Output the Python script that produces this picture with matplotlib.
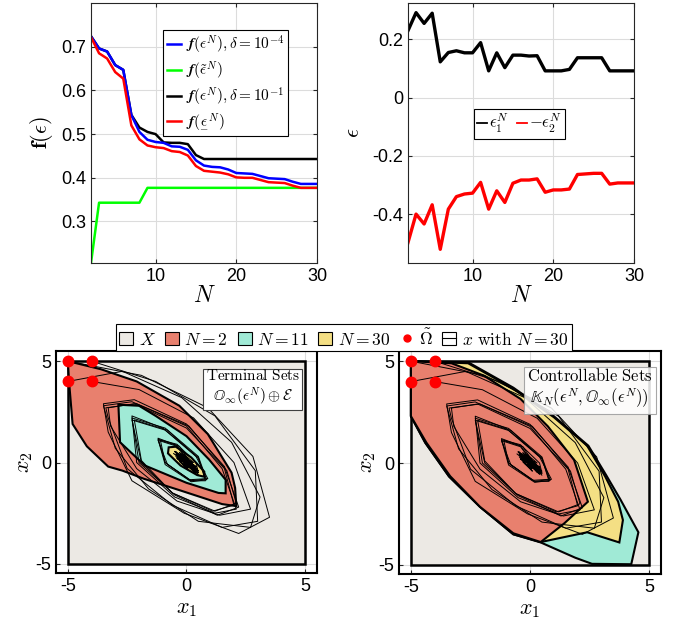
import numpy as np
import matplotlib
matplotlib.use("Agg")
import matplotlib.pyplot as plt
from matplotlib.patches import Polygon, Patch
from matplotlib.lines import Line2D
from matplotlib.legend_handler import HandlerTuple

plt.rcParams['font.family'] = ['Liberation Sans', 'DejaVu Sans']
plt.rcParams['mathtext.fontset'] = 'cm'
plt.rcParams['axes.unicode_minus'] = False

# ---- top panels data ----
N = list(range(2, 31))
f_delta4 = [0.724, 0.696, 0.689, 0.658, 0.647, 0.544, 0.505, 0.487, 0.482, 0.480,
            0.472, 0.471, 0.464, 0.440, 0.428, 0.425, 0.424, 0.419, 0.411, 0.410,
            0.409, 0.404, 0.399, 0.398, 0.397, 0.391, 0.386, 0.386, 0.386]
f_tilde = [0.205, 0.343, 0.343, 0.343, 0.343, 0.343, 0.343, 0.377, 0.377, 0.377,
           0.377, 0.377, 0.377, 0.377, 0.377, 0.377, 0.377, 0.377, 0.377, 0.377,
           0.377, 0.377, 0.377, 0.377, 0.377, 0.377, 0.377, 0.377, 0.377]
f_delta1 = [0.724, 0.696, 0.689, 0.658, 0.647, 0.544, 0.515, 0.505, 0.500, 0.481,
            0.480, 0.480, 0.477, 0.452, 0.443, 0.443, 0.443, 0.443, 0.443, 0.443,
            0.443, 0.443, 0.443, 0.443, 0.443, 0.443, 0.443, 0.443, 0.443]
f_under = [0.722, 0.685, 0.673, 0.642, 0.627, 0.520, 0.488, 0.474, 0.470, 0.468,
           0.461, 0.459, 0.451, 0.427, 0.416, 0.414, 0.412, 0.408, 0.401, 0.400,
           0.400, 0.395, 0.390, 0.389, 0.388, 0.382, 0.377, 0.377, 0.377]

eps1 = [0.230, 0.292, 0.255, 0.290, 0.123, 0.155, 0.161, 0.154, 0.154, 0.189,
        0.092, 0.154, 0.103, 0.146, 0.146, 0.143, 0.144, 0.092, 0.092, 0.092,
        0.097, 0.137, 0.137, 0.137, 0.137, 0.092, 0.092, 0.092, 0.092]
neg_eps2 = [-0.498, -0.400, -0.434, -0.368, -0.521, -0.383, -0.340, -0.331, -0.328, -0.291,
            -0.383, -0.320, -0.360, -0.294, -0.283, -0.283, -0.279, -0.325, -0.317, -0.317,
            -0.314, -0.264, -0.262, -0.260, -0.260, -0.297, -0.293, -0.293, -0.293]

# ---- bottom panels data (polygon vertices, state trajectories) ----
X_set = [(-5, -5), (5, -5), (5, 5), (-5, 5)]

term_N2 = [(-5.0, 5.0), (-3.6, 4.6), (-2.1, 4.0), (-0.3, 2.8), (0.9, 1.4), (1.9, -0.5),
           (2.05, -1.25), (2.1, -2.15), (1.5, -2.05), (-0.2, -1.4), (-1.8, -0.8),
           (-2.7, -0.4), (-3.3, -0.2), (-4.2, 0.8), (-4.8, 1.9), (-4.95, 4.0)]
term_N11 = [(-2.87, 2.85), (-2.0, 2.8), (-1.3, 2.3), (0.0, 1.3), (0.95, 0.15), (1.65, -0.85),
            (1.65, -1.52), (1.35, -1.5), (0.0, -1.0), (-1.75, -0.15), (-2.8, 1.0)]
term_N30 = [(-0.75, 0.75), (-0.45, 0.78), (0.2, 0.25), (0.75, -0.45), (0.75, -0.7),
            (0.45, -0.62), (-0.25, -0.15), (-0.78, 0.45)]

ctrl_N2 = [(-5.0, 5.0), (-3.3, 4.9), (-1.95, 4.3), (-0.4, 3.15), (0.75, 1.8), (1.85, 0.15),
           (2.43, -1.9), (1.45, -2.95), (0.45, -3.88), (-0.7, -3.45), (-2.1, -2.15),
           (-3.35, -0.65), (-4.35, 1.0), (-5.0, 2.3)]
ctrl_N30 = [(-5.0, 5.0), (-2.6, 4.9), (-0.7, 3.65), (1.0, 2.25), (2.4, 0.85), (3.15, -0.65),
            (3.7, -1.9), (3.9, -2.8), (3.75, -3.9), (2.4, -3.4), (0.45, -3.88),
            (-0.7, -3.5), (-2.1, -2.15), (-3.4, -0.66), (-4.4, 1.0), (-5.0, 2.3)]
ctrl_N11 = [(-5.0, 5.0), (-2.6, 4.95), (-0.7, 3.7), (1.0, 2.3), (2.45, 0.85), (3.2, -0.6),
            (3.8, -1.8), (4.55, -3.4), (4.25, -4.97), (2.6, -4.95), (1.9, -4.65),
            (0.45, -3.9), (-0.7, -3.5), (-2.1, -2.15), (-3.4, -0.66), (-4.4, 1.0), (-5.0, 2.3)]

x0_points = [(-5, 5), (-4, 5), (-5, 4), (-4, 4)]

traj_1 = [(-5.0, 5.0), (-1.9, 4.3), (0.9, 2.7), (2.8, 0.3), (3.5, -2.7), (2.2, -3.5),
          (-0.1, -2.5), (-2.3, -0.9), (-3.3, 1.5), (-3.5, 2.9), (-2.2, 3.1), (0.0, 1.9),
          (1.6, -0.2), (2.2, -2.2), (1.3, -2.6), (-0.5, -1.6), (-2.0, 0.0), (-2.3, 2.2),
          (-0.9, 1.7), (0.5, 0.3), (0.85, -0.85), (0.2, -0.95), (-0.9, -0.1), (-1.2, 1.15),
          (-0.4, 0.9), (0.4, 0.0),
          (0.5, -0.5), (-0.3, 0.5), (0.3, -0.45), (-0.5, 0.55), (0.4, -0.2), (-0.4, 0.2),
          (0.2, 0.05), (0.05, -0.3), (-0.05, 0.3), (0.5, -0.5), (-0.2, -0.05), (0.4, -0.2),
          (-0.5, 0.55), (0.3, -0.45), (-0.05, 0.3), (0.05, -0.3), (-0.4, 0.2), (0.2, 0.05),
          (-0.3, 0.5), (0.45, -0.35), (-0.45, 0.4), (0.35, -0.3), (-0.35, 0.35), (0.1, -0.2),
          (-0.1, 0.2), (0.25, -0.1), (-0.25, 0.1), (0.4, -0.45), (-0.4, 0.45), (0.15, -0.25),
          (-0.15, 0.25), (0.0, 0.0)]
traj_2 = [(-4.0, 5.0), (-1.3, 4.0), (1.2, 2.3), (2.9, -0.4), (3.0, -2.9), (1.5, -3.2),
          (-0.6, -2.1), (-2.5, -0.3), (-3.3, 2.2), (-3.4, 2.7), (-2.1, 2.9), (0.1, 1.8),
          (1.7, -0.4), (2.1, -2.0), (1.2, -2.4), (-0.6, -1.5), (-1.9, 0.1), (-2.2, 2.1),
          (-0.8, 1.6), (0.5, 0.2), (0.8, -0.8), (0.1, -0.85), (-0.9, 0.0), (-1.1, 1.1),
          (-0.3, 0.8), (0.5, -0.6),
          (-0.45, 0.5), (0.35, -0.5), (-0.2, 0.45), (0.45, -0.3), (-0.45, 0.3), (0.1, -0.4),
          (-0.3, 0.05), (0.3, 0.0), (-0.1, 0.4), (0.15, -0.15), (-0.35, 0.45), (0.45, -0.45),
          (-0.25, 0.35), (0.25, -0.35), (-0.1, 0.1), (0.0, 0.0)]
traj_3 = [(-5.0, 4.0), (-2.7, 4.5), (-0.2, 3.2), (1.9, 1.0), (3.1, -1.7), (2.7, -3.2),
          (0.5, -2.9), (-1.6, -1.3), (-3.0, 0.7), (-3.5, 2.8), (-2.3, 3.0), (0.0, 1.8),
          (1.5, -0.3), (2.1, -2.3), (1.2, -2.5), (-0.5, -1.7), (-2.1, 0.0), (-2.3, 2.3),
          (-1.0, 1.7), (0.5, 0.25), (0.8, -0.9), (0.2, -0.9), (-0.8, -0.1), (-1.2, 1.1),
          (-0.4, 0.8), (0.45, -0.5), (-0.45, 0.55), (0.4, -0.55), (0.0, 0.0)]
traj_4 = [(-4.0, 4.0), (-2.0, 3.6), (0.3, 2.2), (2.0, 0.0), (2.7, -2.3), (1.4, -2.6),
          (-0.4, -1.9), (-2.1, -0.3), (-3.2, 1.8), (-3.3, 2.7), (-2.2, 2.9), (0.0, 1.7),
          (1.6, -0.3), (2.0, -2.1), (1.1, -2.4), (-0.6, -1.5), (-1.9, 0.0), (-2.3, 2.1),
          (-0.9, 1.6), (0.4, 0.3), (0.9, -0.8), (0.2, -0.9), (-0.9, 0.0), (-1.2, 1.2),
          (-0.4, 0.85), (0.4, -0.45), (-0.55, 0.45), (0.5, -0.4), (0.0, 0.0)]
trajectories = [traj_1, traj_2, traj_3, traj_4]

c_X = '#ECE9E4'
c_N2 = '#E8806E'
c_N11 = '#A0EAD6'
c_N30 = '#F4DF84'

fig = plt.figure(figsize=(6.73, 6.31), dpi=100)

# ---------------- top left ----------------
ax1 = fig.add_axes([0.1352, 0.5832, 0.3358, 0.412])
l_d1, = ax1.plot(N, f_delta1, color='k', lw=1.8)
l_d4, = ax1.plot(N, f_delta4, color='#0000FF', lw=1.8)
l_tl, = ax1.plot(N, f_tilde, color='#00FF00', lw=1.8)
l_un, = ax1.plot(N, f_under, color='#FF0000', lw=1.8)
ax1.set_xlim(2, 30)
ax1.set_ylim(0.205, 0.8)
ax1.set_xticks([10, 20, 30])
ax1.set_yticks([0.3, 0.4, 0.5, 0.6, 0.7])
ax1.set_xlabel('$N$', fontsize=17, labelpad=0)
ax1.set_ylabel(r'$\mathbf{f}(\epsilon)$', fontsize=16, labelpad=4)
try:
    fb = r'\mathbfit{f}'
    matplotlib.mathtext.MathTextParser('agg').parse('$' + fb + '$')
except Exception:
    fb = r'\mathbf{f}'
lab = [r'$%s(\epsilon^N), \delta = 10^{-4}$' % fb,
       r'$%s(\tilde{\epsilon}^N)$' % fb,
       r'$%s(\epsilon^N), \delta = 10^{-1}$' % fb,
       r'$%s(\underset{-}{\epsilon}^N)$' % fb]
leg1 = ax1.legend([l_d4, l_tl, l_d1, l_un], lab, loc='upper right',
                  bbox_to_anchor=(0.905, 0.925), fontsize=11, handlelength=0.9,
                  handletextpad=0.3, borderpad=0.25, labelspacing=0.25,
                  fancybox=False, framealpha=1, edgecolor='k')
leg1.get_frame().set_linewidth(0.8)

# ---------------- top right ----------------
ax2 = fig.add_axes([0.6062, 0.5832, 0.3358, 0.412])
ax2.plot(N, eps1, color='k', lw=2.4)
ax2.plot(N, neg_eps2, color='#FF0000', lw=2.4)
ax2.set_xlim(2, 30)
ax2.set_ylim(-0.568, 0.325)
ax2.set_xticks([10, 20, 30])
ax2.set_yticks([-0.4, -0.2, 0, 0.2])
ax2.set_yticklabels(['-0.4', '-0.2', '0', '0.2'])
ax2.set_xlabel('$N$', fontsize=17, labelpad=0)
ax2.set_ylabel(r'$\epsilon$', fontsize=16, labelpad=6)
h_e1 = Line2D([], [], color='k', lw=1.3)
h_e2 = Line2D([], [], color='#FF0000', lw=1.3)
leg2 = ax2.legend([h_e1, h_e2], [r'$\epsilon_1^N$', r'$-\epsilon_2^N$'], loc='center',
                  bbox_to_anchor=(0.494, 0.535), ncol=2, fontsize=12, handlelength=0.6,
                  handletextpad=0.1, columnspacing=0.5, borderpad=0.2,
                  fancybox=False, framealpha=1, edgecolor='k')
leg2.get_frame().set_linewidth(0.8)

for ax in (ax1, ax2):
    ax.grid(True, color='#DCDCDC', lw=0.8)
    ax.set_axisbelow(True)
    ax.tick_params(direction='in', length=3, labelsize=13, top=True, right=True,
                   color='#262626')
    for s in ax.spines.values():
        s.set_color('#262626')
        s.set_linewidth(0.8)

# ---------------- bottom panels ----------------
ax3 = fig.add_axes([0.0832, 0.0919, 0.3878, 0.3518])
ax4 = fig.add_axes([0.5929, 0.0903, 0.3893, 0.3534])

panels = [(ax3, [(term_N2, c_N2), (term_N11, c_N11), (term_N30, c_N30)]),
          (ax4, [(ctrl_N11, c_N11), (ctrl_N30, c_N30), (ctrl_N2, c_N2)])]
for ax, sets in panels:
    ax.add_patch(Polygon(X_set, closed=True, facecolor=c_X, edgecolor='k', lw=1.8, zorder=2))
    for verts, col in sets:
        ax.add_patch(Polygon(verts, closed=True, facecolor=col, edgecolor='k', lw=1.5, zorder=3))
    for tr in trajectories:
        xs = [p[0] for p in tr]
        ys = [p[1] for p in tr]
        ax.plot(xs, ys, color='k', lw=0.7, zorder=4)
    ax.plot([p[0] for p in x0_points], [p[1] for p in x0_points], 'o', color='#FF0000',
            ms=7.5, zorder=5)
    ax.set_xlim(-5.5, 5.5)
    ax.set_ylim(-5.45, 5.5)
    ax.set_xticks([-5, 0, 5])
    ax.set_yticks([-5, 0, 5])
    ax.set_xticklabels(['-5', '0', '5'])
    ax.set_yticklabels(['-5', '0', '5'])
    ax.grid(True, color='#DCDCDC', lw=0.8)
    ax.set_axisbelow(True)
    ax.tick_params(direction='in', length=3, labelsize=13, color='#262626')
    for s in ax.spines.values():
        s.set_color('k')
        s.set_linewidth(1.5)
    ax.set_xlabel('$x_1$', fontsize=16, labelpad=2)
    ax.set_ylabel('$x_2$', fontsize=16, labelpad=0)

ax3.text(0.935, 0.925, r'$\mathrm{Terminal\ Sets}$' + '\n' +
         r'$\mathbb{O}_\infty(\epsilon^N)\oplus\mathcal{E}$',
         transform=ax3.transAxes, ha='right', va='top', multialignment='center',
         fontsize=11, zorder=6,
         bbox=dict(boxstyle='square,pad=0.15', facecolor='white', edgecolor='#404040', lw=0.8))
ax4.text(0.968, 0.93, r'$\mathrm{Controllable\ Sets}$' + '\n' +
         r'$\mathbb{K}_N(\epsilon^N,\mathbb{O}_\infty(\epsilon^N))$',
         transform=ax4.transAxes, ha='right', va='top', multialignment='center',
         fontsize=12, zorder=6,
         bbox=dict(boxstyle='square,pad=0.2', facecolor='white', edgecolor='#999999',
                   lw=0.8, alpha=0.85))

# shared legend
h_X = Patch(facecolor=c_X, edgecolor='k', lw=0.8)
h_2 = Patch(facecolor=c_N2, edgecolor='k', lw=0.8)
h_11 = Patch(facecolor=c_N11, edgecolor='k', lw=0.8)
h_30 = Patch(facecolor=c_N30, edgecolor='k', lw=0.8)
h_om = Line2D([], [], marker='o', color='#FF0000', ls='none', ms=5)
h_x = (Patch(facecolor='white', edgecolor='k', lw=0.8), Line2D([], [], color='k', lw=0.8))
leg3 = fig.legend([h_X, h_2, h_11, h_30, h_om, h_x],
                  ['$X$', '$N=2$', '$N=11$', '$N=30$', r'$\tilde{\Omega}$',
                   r'$x\ \mathrm{with}\ N=30$'],
                  loc='center', bbox_to_anchor=(0.511, 0.465), ncol=6, fontsize=12.6,
                  handlelength=0.8, handleheight=0.8, handletextpad=0.3, columnspacing=0.55,
                  borderpad=0.2, fancybox=False, framealpha=1, edgecolor='k',
                  handler_map={tuple: HandlerTuple(ndivide=1)})
leg3.get_frame().set_linewidth(0.8)

fig.savefig('out.png', dpi=100)
